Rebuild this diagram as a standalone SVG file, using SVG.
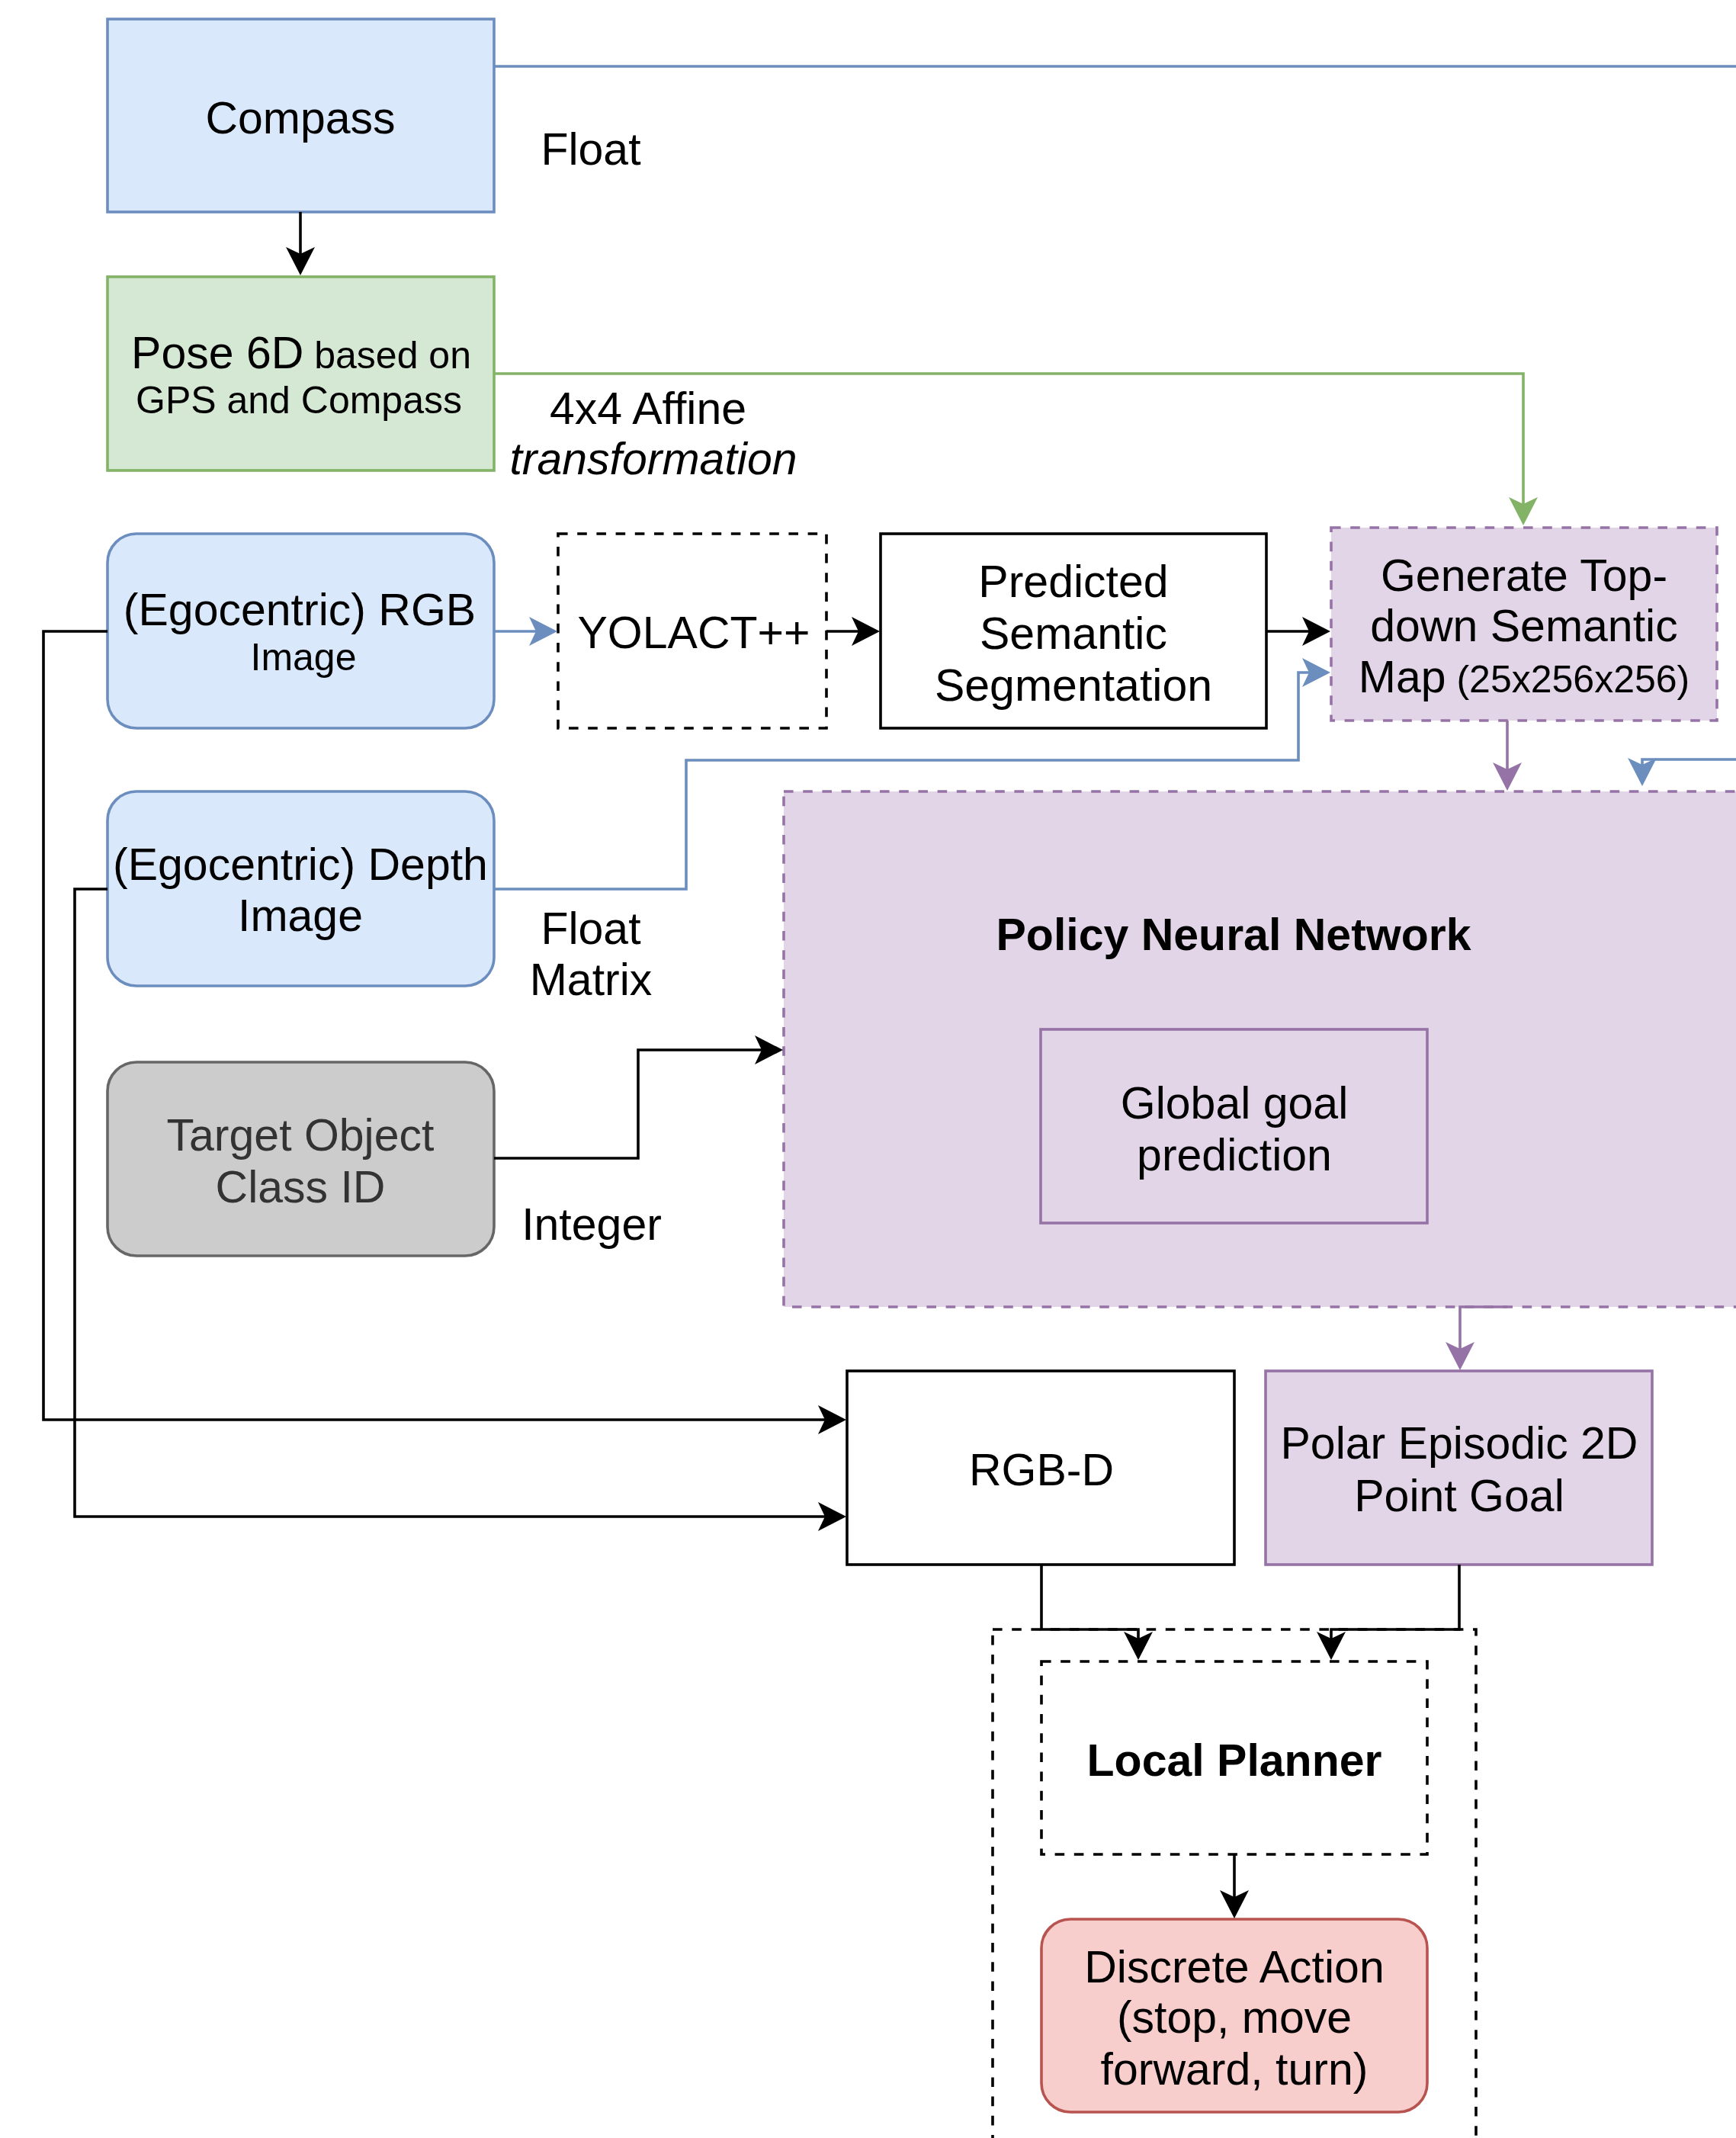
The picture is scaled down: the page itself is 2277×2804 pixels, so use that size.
<svg xmlns="http://www.w3.org/2000/svg" width="2277" height="2804" viewBox="0 0 2277 2804">
<defs>
<style>
text{font-family:"Liberation Sans",Arial,sans-serif;font-size:59px;fill:#000;text-anchor:middle}
.sm{font-size:50px}
.b{font-weight:bold}
.it{font-style:italic}
.n{stroke-width:3.6}
.blue{fill:#dae8fc;stroke:#6c8ebf}
.green{fill:#d5e8d4;stroke:#82b366}
.purple{fill:#e1d5e7;stroke:#9673a6}
.white{fill:#fff;stroke:#000}
.gray{fill:#cccccc;stroke:#666666}
.red{fill:#f8cecc;stroke:#b85450}
.dash{stroke-dasharray:12.6 12.6}
.e{fill:none;stroke-width:3.6}
.k{stroke:#000}
.eb{stroke:#6c8ebf}
.eg{stroke:#82b366}
.ep{stroke:#9673a6}
</style>
<marker id="ak" markerUnits="userSpaceOnUse" viewBox="0 0 37 38" markerWidth="37" markerHeight="38" refX="9" refY="19" orient="auto"><path d="M37,19 L0,0 L9,19 L0,38 Z" fill="#000"/></marker>
<marker id="ab" markerUnits="userSpaceOnUse" viewBox="0 0 37 38" markerWidth="37" markerHeight="38" refX="9" refY="19" orient="auto"><path d="M37,19 L0,0 L9,19 L0,38 Z" fill="#6c8ebf"/></marker>
<marker id="ag" markerUnits="userSpaceOnUse" viewBox="0 0 37 38" markerWidth="37" markerHeight="38" refX="9" refY="19" orient="auto"><path d="M37,19 L0,0 L9,19 L0,38 Z" fill="#82b366"/></marker>
<marker id="ap" markerUnits="userSpaceOnUse" viewBox="0 0 37 38" markerWidth="37" markerHeight="38" refX="9" refY="19" orient="auto"><path d="M37,19 L0,0 L9,19 L0,38 Z" fill="#9673a6"/></marker>
</defs>
<rect width="2277" height="2804" fill="#fff"/>

<g id="local-planner-group"><rect x="1302" y="2137" width="634" height="800" fill="none" stroke="#000" class="n dash"/></g>

<g id="compass"><rect x="141" y="25" width="507" height="253" class="n blue"/><text x="394" y="175">Compass</text></g>

<g id="pose"><rect x="141" y="363" width="507" height="254" class="n green"/><text x="395" y="483">Pose 6D<tspan class="sm"> based on</tspan></text><text x="392" y="542" class="sm">GPS and Compass</text></g>

<g id="rgb"><rect x="141" y="700" width="507" height="255" rx="38" class="n blue"/><text x="393" y="820">(Egocentric) RGB</text><text x="398" y="879" class="sm">Image</text></g>

<g id="yolact"><rect x="732" y="700" width="352" height="255" fill="#fff" stroke="#000" class="n dash"/><text x="910" y="850">YOLACT++</text></g>

<g id="predicted"><rect x="1155" y="700" width="506" height="255" class="n white"/><text x="1408" y="783">Predicted</text><text x="1408" y="851">Semantic</text><text x="1408" y="919">Segmentation</text></g>

<g id="generate"><rect x="1746" y="692" width="506" height="253" class="n purple dash"/><text x="1999" y="775">Generate Top-</text><text x="1999" y="841">down Semantic</text><text x="1999" y="908">Map<tspan class="sm"> (25x256x256)</tspan></text></g>

<g id="depth"><rect x="141" y="1038" width="507" height="255" rx="38" class="n blue"/><text x="394" y="1154">(Egocentric) Depth</text><text x="394" y="1221">Image</text></g>

<g id="target"><rect x="141" y="1393" width="507" height="254" rx="38" class="n gray"/><text x="394" y="1509" style="fill:#333333">Target Object</text><text x="394" y="1577" style="fill:#333333">Class ID</text></g>

<g id="policy"><rect x="1028" y="1038" width="1400" height="676" class="n purple dash"/><text x="1618" y="1246" class="b">Policy Neural Network</text></g>

<g id="global-goal"><rect x="1365" y="1350" width="507" height="254" class="n purple"/><text x="1619" y="1467">Global goal</text><text x="1619" y="1535">prediction</text></g>

<g id="rgbd"><rect x="1111" y="1798" width="508" height="254" class="n white"/><text x="1366" y="1948">RGB-D</text></g>

<g id="polar"><rect x="1660" y="1798" width="507" height="254" class="n purple"/><text x="1914" y="1913">Polar Episodic 2D</text><text x="1914" y="1982">Point Goal</text></g>

<g id="local-planner"><rect x="1366" y="2179" width="506" height="253" fill="#fff" stroke="#000" class="n dash"/><text x="1619" y="2329" class="b">Local Planner</text></g>

<g id="discrete-action"><rect x="1366" y="2517" width="506" height="253" rx="38" class="n red"/><text x="1619" y="2600">Discrete Action</text><text x="1619" y="2666">(stop, move</text><text x="1619" y="2734">forward, turn)</text></g>

<g id="connectors">
<path class="e eb" d="M648,87 H2320 V996 H2154 V1003" marker-end="url(#ab)"/>
<path class="e k" d="M394,278 V333" marker-end="url(#ak)"/>
<path class="e eg" d="M648,490 H1998 V661" marker-end="url(#ag)"/>
<path class="e eb" d="M648,828 H703" marker-end="url(#ab)"/>
<path class="e k" d="M1084,828 H1126" marker-end="url(#ak)"/>
<path class="e k" d="M1661,828 H1717" marker-end="url(#ak)"/>
<path class="e eb" d="M648,1166 H900 V997 H1703 V882 H1717" marker-end="url(#ab)"/>
<path class="e ep" d="M1977,945 V1009" marker-end="url(#ap)"/>
<path class="e k" d="M648,1519 H837 V1377 H999" marker-end="url(#ak)"/>
<path class="e k" d="M141,828 H57 V1862 H1082" marker-end="url(#ak)"/>
<path class="e k" d="M141,1166 H98 V1989 H1082" marker-end="url(#ak)"/>
<path class="e ep" d="M1977,1714 H1915 V1769" marker-end="url(#ap)"/>
<path class="e k" d="M1366,2052 V2137 H1493 V2149" marker-end="url(#ak)"/>
<path class="e k" d="M1914,2052 V2137 H1746 V2149" marker-end="url(#ak)"/>
<path class="e k" d="M1619,2432 V2488" marker-end="url(#ak)"/>
</g>

<g id="labels">
<text x="775" y="216">Float</text>
<text x="850" y="556">4x4 Affine</text>
<text x="857" y="622" class="it">transformation</text>
<text x="775" y="1238">Float</text>
<text x="775" y="1305">Matrix</text>
<text x="776" y="1626">Integer</text>
</g>
</svg>
